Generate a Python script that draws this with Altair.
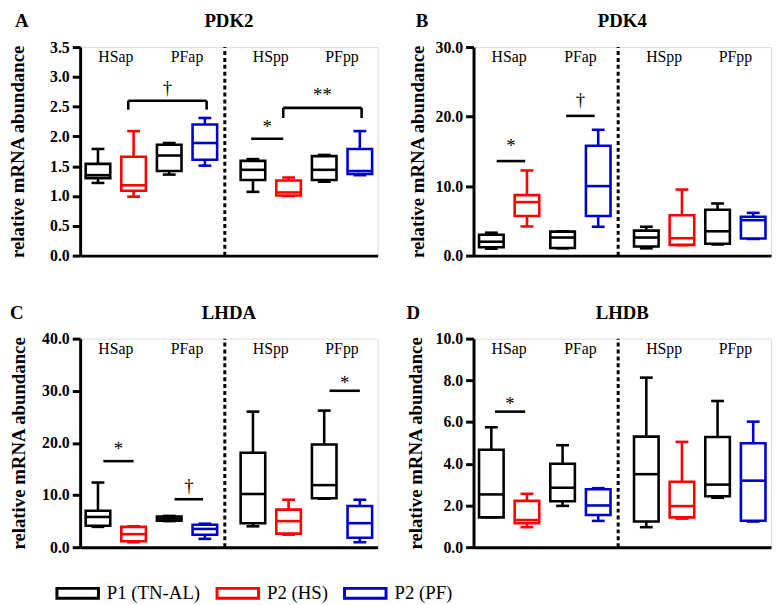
import altair as alt
import pandas as pd

# ---------------- data ----------------
SERIES = ["P1 (TN-AL)", "P2 (HS)", "P2 (PF)"]
COLORS = ["#000000", "#ff0000", "#0000cc"]
BOX_GROUP = ["P1 (TN-AL)", "P2 (HS)", "P1 (TN-AL)", "P2 (PF)",
             "P1 (TN-AL)", "P2 (HS)", "P1 (TN-AL)", "P2 (PF)"]
PAIR_LABELS = ["HSap", "PFap", "HSpp", "PFpp"]

# PDK2 (panel A)
PDK2_lo = [1.22, 0.99, 1.36, 1.51, 1.07, 1.00, 1.24, 1.35]
PDK2_q1 = [1.30, 1.09, 1.42, 1.61, 1.27, 1.01, 1.27, 1.37]
PDK2_med = [1.35, 1.18, 1.68, 1.89, 1.44, 1.06, 1.44, 1.42]
PDK2_q3 = [1.54, 1.66, 1.86, 2.20, 1.59, 1.26, 1.67, 1.79]
PDK2_hi = [1.79, 2.09, 1.89, 2.31, 1.62, 1.31, 1.69, 2.09]
PDK2_ticks = [0.0, 0.5, 1.0, 1.5, 2.0, 2.5, 3.0, 3.5]
# (x1, x2, line y, bracket drop y or None, label, label y)
PDK2_sig = [(1.85, 4.05, 2.60, 2.45, "\u2020", 2.81),
            (5.30, 6.20, 1.96, None, "*", 2.15),
            (6.20, 8.40, 2.48, 2.31, "**", 2.69)]

# PDK4 (panel B)
PDK4_lo = [1.0, 4.2, 1.05, 4.15, 1.05, 1.5, 1.6, 2.4]
PDK4_q1 = [1.2, 5.7, 1.1, 5.7, 1.3, 1.55, 1.7, 2.45]
PDK4_med = [2.0, 7.7, 2.6, 10.0, 2.6, 2.5, 3.5, 5.1]
PDK4_q3 = [3.0, 8.7, 3.45, 15.8, 3.6, 5.8, 6.6, 5.6]
PDK4_hi = [3.3, 12.25, 3.5, 18.1, 4.15, 9.5, 7.5, 6.15]
PDK4_ticks = [0.0, 10.0, 20.0, 30.0]
PDK4_sig = [(1.15, 1.95, 13.6, None, "*", 15.7),
            (3.10, 3.90, 20.1, None, "\u2020", 22.4)]

# LHDA (panel C)
LHDA_lo = [3.9, 0.95, 5.0, 1.6, 4.0, 2.4, 9.3, 0.95]
LHDA_q1 = [4.1, 1.15, 5.1, 2.4, 4.6, 2.6, 9.4, 1.8]
LHDA_med = [5.8, 2.5, 5.5, 3.5, 10.2, 5.0, 11.9, 4.6]
LHDA_q3 = [7.0, 3.9, 5.9, 4.3, 18.1, 7.2, 19.7, 7.9]
LHDA_hi = [12.4, 4.0, 6.0, 4.5, 26.0, 9.1, 26.2, 9.1]
LHDA_ticks = [0.0, 10.0, 20.0, 30.0, 40.0]
LHDA_sig = [(1.15, 2.0, 16.5, None, "*", 18.8),
            (3.15, 3.95, 9.2, None, "\u2020", 11.8),
            (7.50, 8.35, 30.0, None, "*", 31.5)]

# LHDB (panel D)
LHDB_lo = [1.43, 0.96, 1.98, 1.26, 0.96, 1.37, 2.37, 1.23]
LHDB_q1 = [1.43, 1.15, 2.20, 1.54, 1.23, 1.43, 2.44, 1.27]
LHDB_med = [2.53, 1.30, 2.85, 2.00, 3.50, 1.97, 3.00, 3.19]
LHDB_q3 = [4.67, 2.22, 4.00, 2.78, 5.30, 3.14, 5.28, 4.98]
LHDB_hi = [5.75, 2.56, 4.89, 2.83, 8.13, 5.05, 7.01, 6.02]
LHDB_ticks = [0.0, 2.0, 4.0, 6.0, 8.0, 10.0]
LHDB_sig = [(1.10, 1.95, 6.5, None, "*", 6.86)]

# ---------------- styling / layout constants ----------------
FONT = "Times New Roman, Liberation Serif, serif"
W, H = 301, 211
GAP = 0.35          # extra space between the "ap" and "pp" halves
BOX_HALF = 0.345
CAP_HALF = 0.18
DIVIDER = 4.56
X_DOMAIN = [0.5, 8.85]
SW = 2.6
HEAD_Y = -35

LEGEND = alt.Legend(
    title=None, orient="none", legendX=-25, legendY=530,
    direction="horizontal",
    symbolType="M-1,-0.24H1V0.24H-1Z", symbolSize=1764,
    symbolStrokeWidth=3, symbolFillColor="white",
    labelFont=FONT, labelFontSize=19, labelColor="black",
    labelOffset=7, columnPadding=10,
)
STROKE = alt.Stroke("grp:N", scale=alt.Scale(domain=SERIES, range=COLORS),
                    legend=LEGEND)


def make_panel(letter, gene, lo, q1, med, q3, hi, ticks, sigs,
               letter_dx, title_pad):
    n = len(lo)
    pos = [i + 1 + (GAP if i >= 4 else 0) for i in range(n)]
    df = pd.DataFrame({"pos": pos, "grp": BOX_GROUP, "lo": lo, "q1": q1,
                       "med": med, "q3": q3, "hi": hi})
    df["xl"] = df["pos"] - BOX_HALF
    df["xr"] = df["pos"] + BOX_HALF
    df["cl"] = df["pos"] - CAP_HALF
    df["cr"] = df["pos"] + CAP_HALF
    ymax = ticks[-1]

    xs = alt.Scale(domain=X_DOMAIN, nice=False, zero=False)
    ys = alt.Scale(domain=[0, ymax], nice=False, zero=True)
    xaxis = alt.Axis(title=None, labels=False, ticks=False, grid=False,
                     domainWidth=3, domainColor="black")
    yaxis = alt.Axis(title="relative mRNA abundance", values=ticks,
                     format=".1f", grid=False, domainWidth=3,
                     domainColor="black", tickWidth=3, tickColor="black",
                     tickSize=8, labelPadding=3, labelFont=FONT,
                     labelFontSize=16, labelFontWeight="bold",
                     labelColor="black", titleFont=FONT, titleFontSize=19,
                     titleFontWeight="bold", titleColor="black",
                     minExtent=42, maxExtent=42, titlePadding=title_pad)

    def X(f):
        return alt.X(f, type="quantitative", scale=xs, axis=xaxis)

    def Y(f):
        return alt.Y(f, type="quantitative", scale=ys, axis=yaxis)

    base = alt.Chart(df)
    whisk = base.mark_rule(strokeWidth=SW).encode(
        x=X("pos"), y=Y("lo"), y2="hi", stroke=STROKE)
    cap_hi = base.mark_rule(strokeWidth=SW).encode(
        x=X("cl"), x2="cr", y=Y("hi"), stroke=STROKE)
    cap_lo = base.mark_rule(strokeWidth=SW).encode(
        x=X("cl"), x2="cr", y=Y("lo"), stroke=STROKE)
    box = base.mark_rect(fill="white", strokeWidth=SW).encode(
        x=X("xl"), x2="xr", y=Y("q1"), y2="q3", stroke=STROKE)
    median = base.mark_rule(strokeWidth=SW).encode(
        x=X("xl"), x2="xr", y=Y("med"), stroke=STROKE)

    div_df = pd.DataFrame({"x": [DIVIDER], "y0": [0.0], "y1": [ymax]})
    divider = alt.Chart(div_df).mark_rule(
        strokeWidth=3, strokeDash=[4, 3], color="black").encode(
        x=X("x"), y=Y("y0"), y2="y1")

    lab_df = pd.DataFrame({
        "t": PAIR_LABELS,
        "x": [(pos[2 * k] + pos[2 * k + 1]) / 2 for k in range(4)],
        "y": [ymax * 0.952] * 4,
    })
    pair_text = alt.Chart(lab_df).mark_text(
        font=FONT, fontSize=16, baseline="middle", align="center",
        color="black").encode(x=X("x"), y=Y("y"), text="t:N")

    seg_rows, drop_rows, sig_rows = [], [], []
    for (x1, x2, yl, yd, lab, yt) in sigs:
        seg_rows.append({"x1": x1, "x2": x2, "y": yl})
        if yd is not None:
            drop_rows.append({"x": x1, "ya": yl, "yb": yd})
            drop_rows.append({"x": x2, "ya": yl, "yb": yd})
        sig_rows.append({"x": (x1 + x2) / 2, "y": yt, "t": lab})
    layers = [divider, whisk, cap_hi, cap_lo, box, median, pair_text]
    layers.append(alt.Chart(pd.DataFrame(seg_rows)).mark_rule(
        strokeWidth=SW, color="black").encode(x=X("x1"), x2="x2", y=Y("y")))
    if drop_rows:
        layers.append(alt.Chart(pd.DataFrame(drop_rows)).mark_rule(
            strokeWidth=SW, color="black").encode(x=X("x"), y=Y("ya"), y2="yb"))
    layers.append(alt.Chart(pd.DataFrame(sig_rows)).mark_text(
        font=FONT, fontSize=19, baseline="middle", align="center",
        color="black").encode(x=X("x"), y=Y("y"), text="t:N"))

    head = pd.DataFrame({"t": [letter]})
    layers.append(alt.Chart(head).mark_text(
        font=FONT, fontSize=19, fontWeight="bold", baseline="top",
        align="center", color="black").encode(
        text="t:N", x=alt.value(letter_dx), y=alt.value(HEAD_Y)))
    gene_df = pd.DataFrame({"t": [gene]})
    layers.append(alt.Chart(gene_df).mark_text(
        font=FONT, fontSize=19, fontWeight="bold", baseline="top",
        align="center", color="black").encode(
        text="t:N", x=alt.value(W / 2), y=alt.value(HEAD_Y)))

    return alt.layer(*layers).properties(width=W, height=H)


pA = make_panel("A", "PDK2", PDK2_lo, PDK2_q1, PDK2_med, PDK2_q3, PDK2_hi,
                PDK2_ticks, PDK2_sig, -59, 11)
pB = make_panel("B", "PDK4", PDK4_lo, PDK4_q1, PDK4_med, PDK4_q3, PDK4_hi,
                PDK4_ticks, PDK4_sig, -52, 5)
pC = make_panel("C", "LHDA", LHDA_lo, LHDA_q1, LHDA_med, LHDA_q3, LHDA_hi,
                LHDA_ticks, LHDA_sig, -64, 10)
pD = make_panel("D", "LHDB", LHDB_lo, LHDB_q1, LHDB_med, LHDB_q3, LHDB_hi,
                LHDB_ticks, LHDB_sig, -61, 7)

chart = alt.concat(pA, pB, pC, pD, columns=2,
                   spacing={"row": 84, "column": 97}, bounds="flush").resolve_scale(
    stroke="shared").properties(
    padding={"left": 0, "top": 0, "right": 0, "bottom": 0}
).configure_view(stroke=None).configure(font=FONT).configure_legend(
    labelFont=FONT, labelFontSize=19, labelColor="black")

chart.save("out.html", embed_options={"renderer": "svg", "actions": False})
